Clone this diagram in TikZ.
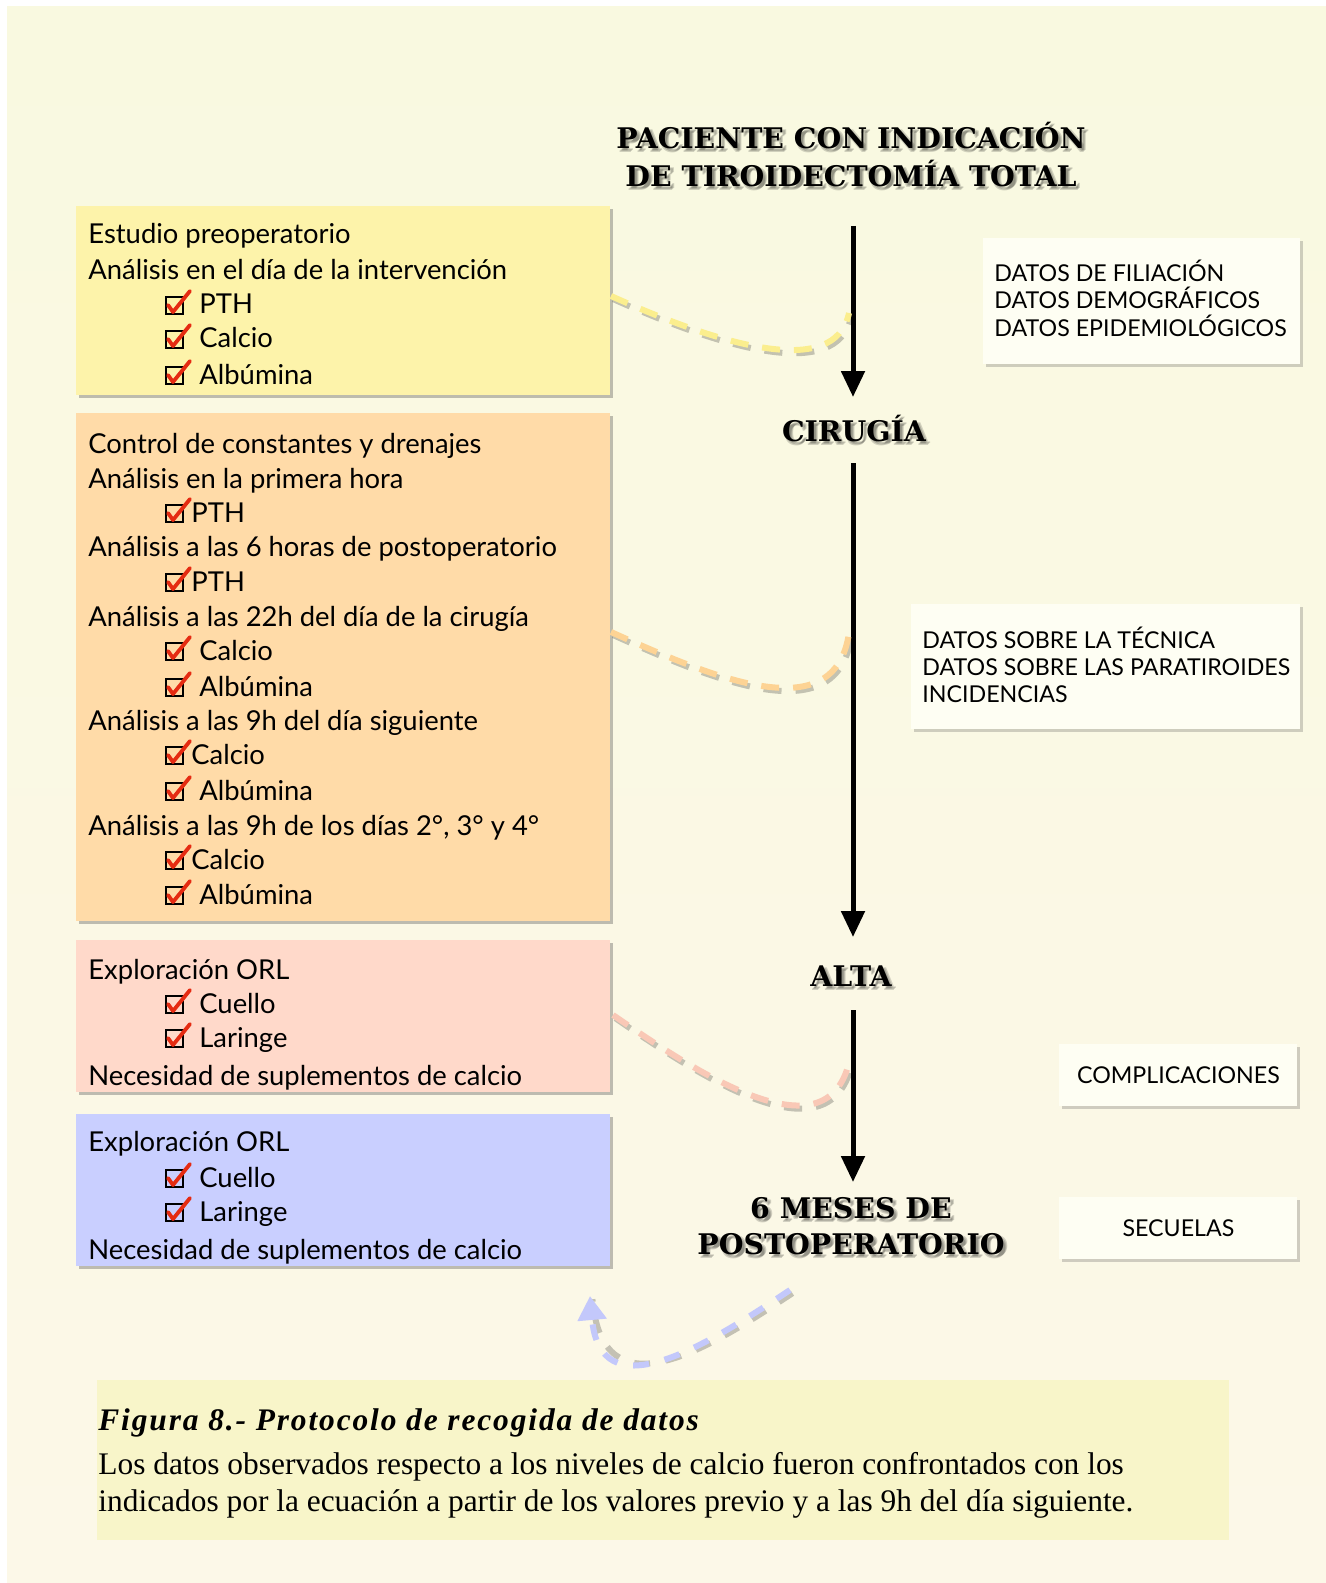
\documentclass[tikz,border=0pt]{standalone}
\usepackage{fontspec}
\setmainfont{Liberation Serif}
\newfontfamily\gill{Lato}
\newfontfamily\headf{DejaVu Serif}
\newfontfamily\captitle{Liberation Serif}[LetterSpace=6]
\usetikzlibrary{shadows,arrows.meta,calc}
\definecolor{bgtop}{HTML}{F9F9E0}
\definecolor{bgbot}{HTML}{FCF8E8}
\definecolor{capbox}{HTML}{F8F5C9}
\definecolor{yfill}{HTML}{FDF3AA}
\definecolor{ofill}{HTML}{FFDBA8}
\definecolor{pfill}{HTML}{FFD9CA}
\definecolor{bfill}{HTML}{C9CFFF}
\definecolor{ydash}{HTML}{FBEE8E}
\definecolor{odash}{HTML}{FDD394}
\definecolor{pdash}{HTML}{F9C8B6}
\definecolor{bdash}{HTML}{C3C8FB}
\definecolor{rfill}{HTML}{FEFEF3}
\definecolor{chkred}{HTML}{E52B12}
\newcommand\shtext[4]{%
  \foreach \dx/\dy [count=\k] in {3/3,2/4,4/2}{\node[hdr,text=black,opacity=0.16] (#1s\k) at (#2+\dx,#3+\dy) {#4};}
  \node[hdr] (#1) at (#2,#3) {#4};}
\begin{document}
\begin{tikzpicture}[x=0.5pt,y=-0.5pt,
  txt/.style={anchor=base west,inner sep=0pt,font=\gill\fontsize{13.7}{16}\selectfont,text=black},
  rtxt/.style={anchor=base west,inner sep=0pt,font=\gill\fontsize{11.6}{13}\selectfont,text=black},
  ctxt/.style={inner sep=0pt,font=\gill\fontsize{11.6}{13}\selectfont,text=black},
  hdr/.style={anchor=base,inner sep=0pt,font=\headf\bfseries\fontsize{14.2}{17}\selectfont},
  pbox/.style={anchor=north west,inner sep=0pt,draw=none,
    drop shadow={shadow xshift=1.5pt,shadow yshift=-1.5pt,opacity=0.35,fill=black!70}},
  rbox/.style={anchor=north west,inner sep=0pt,draw=none,fill=rfill,
    drop shadow={shadow xshift=1.2pt,shadow yshift=-1.2pt,opacity=0.25,fill=black!70}},
  flow/.style={line width=2.5pt,-{Triangle[length=13pt,width=11.5pt]}},
  dsh/.style={line width=3pt,dash pattern=on 9pt off 7pt},
  dshadow/.style={line width=3pt,dash pattern=on 9pt off 7pt,draw=black,opacity=0.22,
    transform canvas={shift={(1.2pt,-1.6pt)}}},
  chk/.pic={\draw[line width=1.1pt,black] (1,-17) rectangle (18,0);
            \draw[line width=1.9pt,chkred,line cap=round,line join=round] (3,-9) -- (8,-2) -- (25,-23);}
]
\useasboundingbox (0,0) rectangle (1326,1583);
\fill[white] (0,0) rectangle (1326,1583);
\shade[top color=bgtop,bottom color=bgbot] (7,7) rectangle (1326,1583);

% ---------- left boxes ----------
\node[pbox,fill=yfill,minimum width=267pt,minimum height=94.5pt] (yb) at (76,206) {};
\node[pbox,fill=ofill,minimum width=267pt,minimum height=254pt] (ob) at (76,413) {};
\node[pbox,fill=pfill,minimum width=267pt,minimum height=76pt] (pb) at (76,940) {};
\node[pbox,fill=bfill,minimum width=267pt,minimum height=76pt] (bb) at (76,1114) {};

% yellow
\node[txt] (y1) at (88,244) {Estudio preoperatorio};
\node[txt] (y2) at (88,280) {Análisis en el día de la intervención};
\pic at (165,314) {chk}; \node[txt] (y3) at (199,314) {PTH};
\pic at (165,348) {chk}; \node[txt] (y4) at (199,348) {Calcio};
\pic at (165,384) {chk}; \node[txt] (y5) at (199,384) {Albúmina};

% orange
\node[txt] (o1) at (88,453) {Control de constantes y drenajes};
\node[txt] (o2) at (88,488) {Análisis en la primera hora};
\pic at (165,522) {chk}; \node[txt] (o3) at (191,522) {PTH};
\node[txt] (o4) at (88,556) {Análisis a las 6 horas de postoperatorio};
\pic at (165,591) {chk}; \node[txt] (o5) at (191,591) {PTH};
\node[txt] (o6) at (88,626) {Análisis a las 22h del día de la cirugía};
\pic at (165,660) {chk}; \node[txt] (o7) at (199,660) {Calcio};
\pic at (165,696) {chk}; \node[txt] (o8) at (199,696) {Albúmina};
\node[txt] (o9) at (88,730) {Análisis a las 9h del día siguiente};
\pic at (165,764) {chk}; \node[txt] (o10) at (191,764) {Calcio};
\pic at (165,800) {chk}; \node[txt] (o11) at (199,800) {Albúmina};
\node[txt] (o12) at (88,835) {Análisis a las 9h de los días 2°, 3° y 4°};
\pic at (165,869) {chk}; \node[txt] (o13) at (191,869) {Calcio};
\pic at (165,904) {chk}; \node[txt] (o14) at (199,904) {Albúmina};

% pink
\begin{scope}
\clip (pb.north west) rectangle (pb.south east);
\node[txt] (p1) at (88,979) {Exploración ORL};
\pic at (165,1013) {chk}; \node[txt] (p2) at (199,1013) {Cuello};
\pic at (165,1047) {chk}; \node[txt] (p3) at (199,1047) {Laringe};
\node[txt] (p4) at (88,1085) {Necesidad de suplementos de calcio};
\end{scope}

% blue
\begin{scope}
\clip (bb.north west) rectangle (bb.south east);
\node[txt] (b1) at (88,1151) {Exploración ORL};
\pic at (165,1187) {chk}; \node[txt] (b2) at (199,1187) {Cuello};
\pic at (165,1221) {chk}; \node[txt] (b3) at (199,1221) {Laringe};
\node[txt] (b4) at (88,1259) {Necesidad de suplementos de calcio};
\end{scope}

% ---------- headings ----------
\shtext{h1a}{851}{149}{PACIENTE CON INDICACIÓN}
\shtext{h1b}{851}{187}{DE TIROIDECTOMÍA TOTAL}
\shtext{h2}{854}{441}{CIRUGÍA}
\shtext{h3}{851}{986}{ALTA}
\shtext{h4a}{851}{1218}{6 MESES DE}
\shtext{h4b}{851}{1254}{POSTOPERATORIO}

% ---------- flow arrows ----------
\coordinate (a1s) at (853,226); \coordinate (a1e) at (853,397);
\coordinate (a2s) at (853,463); \coordinate (a2e) at (853,937);
\coordinate (a3s) at (853,1010); \coordinate (a3e) at (853,1182);
\draw[flow] (a1s) -- (a1e);
\draw[flow] (a2s) -- (a2e);
\draw[flow] (a3s) -- (a3e);

% ---------- right boxes ----------
\node[rbox,minimum width=158.5pt,minimum height=63pt] (r1) at (983,238) {};
\node[rtxt] (r1a) at (994,282) {DATOS DE FILIACIÓN};
\node[rtxt] (r1b) at (994,309) {DATOS DEMOGRÁFICOS};
\node[rtxt] (r1c) at (994,336) {DATOS EPIDEMIOLÓGICOS};

\node[rbox,minimum width=194.5pt,minimum height=62.5pt] (r2) at (911,604) {};
\node[rtxt] (r2a) at (922,648) {DATOS SOBRE LA TÉCNICA};
\node[rtxt] (r2b) at (922,675) {DATOS SOBRE LAS PARATIROIDES};
\node[rtxt] (r2c) at (922,702) {INCIDENCIAS};

\node[rbox,minimum width=119pt,minimum height=31pt] (r3) at (1059,1044) {};
\node[ctxt] (r3t) at (r3.center) {COMPLICACIONES};
\node[rbox,minimum width=119pt,minimum height=31pt] (r4) at (1059,1197) {};
\node[ctxt] (r4t) at (r4.center) {SECUELAS};

% ---------- dashed links ----------
\coordinate (ys) at (611,296); \coordinate (ye) at (849,313);
\coordinate (os) at (611,632); \coordinate (oe) at (849,633);
\coordinate (ps) at (613,1015); \coordinate (pe) at (850,1058);
\coordinate (bs) at (790,1290); \coordinate (be) at (590,1296);
\draw[dshadow] (ys) .. controls (720,345) and (835,380) .. (ye);
\draw[dsh,ydash] (ys) .. controls (720,345) and (835,380) .. (ye);
\draw[dshadow] (os) .. controls (720,681) and (835,728) .. (oe);
\draw[dsh,odash] (os) .. controls (720,681) and (835,728) .. (oe);
\draw[dshadow] (ps) .. controls (700,1075) and (830,1160) .. (pe);
\draw[dsh,pdash] (ps) .. controls (700,1075) and (830,1160) .. (pe);
\draw[dshadow,dash pattern=on 8pt off 8pt] (bs) .. controls (700,1350) and (600,1410) .. (be);
\draw[dsh,bdash,dash pattern=on 8pt off 8pt,-{Triangle[length=12pt,width=14pt]}] (bs) .. controls (700,1350) and (600,1410) .. (be);

% ---------- caption ----------
\node[anchor=north west,inner sep=0pt,fill=capbox,minimum width=566pt,minimum height=80pt] (cap) at (97,1380) {};
\node[anchor=base west,inner sep=0pt,font=\captitle\bfseries\itshape\fontsize{15.7}{18}\selectfont] (c1) at (98,1430) {Figura 8.- Protocolo de recogida de datos};
\node[anchor=base west,inner sep=0pt,font=\fontsize{15.7}{18}\selectfont] (c2) at (98,1474) {Los datos observados respecto a los niveles de calcio fueron confrontados con los};
\node[anchor=base west,inner sep=0pt,font=\fontsize{15.7}{18}\selectfont] (c3) at (98,1511) {indicados por la ecuación a partir de los valores previo y a las 9h del día siguiente.};
\end{tikzpicture}
\end{document}
